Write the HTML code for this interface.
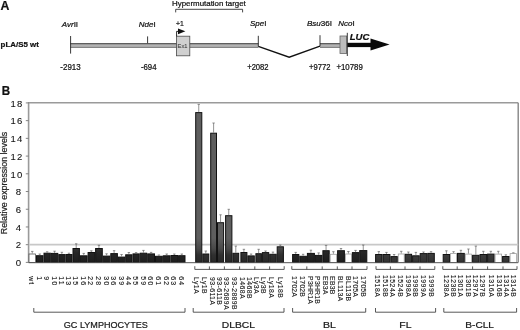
<!DOCTYPE html>
<html><head><meta charset="utf-8"><style>
html,body{margin:0;padding:0;background:#fff;width:520px;height:330px;overflow:hidden}
svg{display:block;font-family:"Liberation Sans", sans-serif;will-change:transform}
</style></head><body>
<svg width="520" height="330" viewBox="0 0 520 330">
<defs><linearGradient id="bg" gradientUnits="userSpaceOnUse" x1="0" y1="238" x2="0" y2="262">
<stop offset="0" stop-color="#5e5e5e"/><stop offset="0.45" stop-color="#484848"/><stop offset="0.7" stop-color="#303030"/><stop offset="1" stop-color="#282828"/></linearGradient>
<linearGradient id="bgl" gradientUnits="userSpaceOnUse" x1="0" y1="244" x2="0" y2="262">
<stop offset="0" stop-color="#4a4a4a"/><stop offset="1" stop-color="#333"/></linearGradient>
<linearGradient id="bgd" gradientUnits="userSpaceOnUse" x1="0" y1="244" x2="0" y2="262">
<stop offset="0" stop-color="#3c3c3c"/><stop offset="0.5" stop-color="#262626"/><stop offset="1" stop-color="#1e1e1e"/></linearGradient></defs>
<text x="0.60" y="10.20" font-size="12.8" font-weight="bold" font-style="normal" fill="#111" stroke="#111" stroke-width="0.22" text-anchor="start" textLength="8.90" lengthAdjust="spacingAndGlyphs" >A</text>
<text x="0.60" y="47.00" font-size="8" font-weight="bold" font-style="normal" fill="#111" stroke="#111" stroke-width="0.22" text-anchor="start" textLength="38.20" lengthAdjust="spacingAndGlyphs" >pLA/S5 wt</text>
<text x="172.00" y="6.20" font-size="7.8" font-weight="normal" font-style="normal" fill="#111" stroke="#111" stroke-width="0.22" text-anchor="start" textLength="73.80" lengthAdjust="spacingAndGlyphs" >Hypermutation target</text>
<path d="M175.7 12.4 V9.3 H242.6 V12.4" fill="none" stroke="#333" stroke-width="0.9"/>
<text x="61.80" y="26.70" font-size="8.0" font-weight="normal" font-style="italic" fill="#111" stroke="#111" stroke-width="0.22" text-anchor="start" textLength="16.30" lengthAdjust="spacingAndGlyphs" >Avr<tspan font-style="normal">II</tspan></text>
<text x="138.80" y="26.50" font-size="8.0" font-weight="normal" font-style="italic" fill="#111" stroke="#111" stroke-width="0.22" text-anchor="start" textLength="16.80" lengthAdjust="spacingAndGlyphs" >Nde<tspan font-style="normal">I</tspan></text>
<text x="250.00" y="25.90" font-size="8.0" font-weight="normal" font-style="italic" fill="#111" stroke="#111" stroke-width="0.22" text-anchor="start" textLength="16.40" lengthAdjust="spacingAndGlyphs" >Spe<tspan font-style="normal">I</tspan></text>
<text x="306.90" y="26.10" font-size="8.0" font-weight="normal" font-style="italic" fill="#111" stroke="#111" stroke-width="0.22" text-anchor="start" textLength="25.10" lengthAdjust="spacingAndGlyphs" >Bsu<tspan font-style="normal">36I</tspan></text>
<text x="338.30" y="26.10" font-size="8.0" font-weight="normal" font-style="italic" fill="#111" stroke="#111" stroke-width="0.22" text-anchor="start" textLength="16.30" lengthAdjust="spacingAndGlyphs" >Nco<tspan font-style="normal">I</tspan></text>
<text x="60.30" y="70.00" font-size="8.2" font-weight="normal" font-style="normal" fill="#111" stroke="#111" stroke-width="0.22" text-anchor="start" textLength="20.40" lengthAdjust="spacingAndGlyphs" >-2913</text>
<text x="140.90" y="69.90" font-size="8.2" font-weight="normal" font-style="normal" fill="#111" stroke="#111" stroke-width="0.22" text-anchor="start" textLength="15.60" lengthAdjust="spacingAndGlyphs" >-694</text>
<text x="247.20" y="69.70" font-size="8.2" font-weight="normal" font-style="normal" fill="#111" stroke="#111" stroke-width="0.22" text-anchor="start" textLength="21.40" lengthAdjust="spacingAndGlyphs" >+2082</text>
<text x="309.00" y="69.50" font-size="8.2" font-weight="normal" font-style="normal" fill="#111" stroke="#111" stroke-width="0.22" text-anchor="start" textLength="21.40" lengthAdjust="spacingAndGlyphs" >+9772</text>
<text x="336.40" y="69.50" font-size="8.2" font-weight="normal" font-style="normal" fill="#111" stroke="#111" stroke-width="0.22" text-anchor="start" textLength="26.40" lengthAdjust="spacingAndGlyphs" >+10789</text>
<text x="176.00" y="26.00" font-size="8.0" font-weight="normal" font-style="normal" fill="#111" stroke="#111" stroke-width="0.22" text-anchor="start" textLength="7.80" lengthAdjust="spacingAndGlyphs" >+1</text>
<rect x="70.5" y="43" width="187.8" height="5" fill="#b4b4b4"/>
<rect x="70.5" y="43" width="187.8" height="1.3" fill="#5e5e5e"/>
<rect x="70.5" y="46.8" width="187.8" height="1.2" fill="#858585"/>
<rect x="320.0" y="43" width="20.0" height="5" fill="#b4b4b4"/>
<rect x="320.0" y="43" width="20.0" height="1.3" fill="#5e5e5e"/>
<rect x="320.0" y="46.8" width="20.0" height="1.2" fill="#858585"/>
<path d="M70.6 36 V53.6" stroke="#222" stroke-width="0.9"/>
<path d="M147.6 36.4 V43.2" stroke="#222" stroke-width="0.9"/>
<path d="M258.3 35.8 V46.4" stroke="#222" stroke-width="0.9"/>
<path d="M320.0 35.2 V46.2" stroke="#222" stroke-width="0.9"/>
<path d="M258.3 46.4 L289.2 57.2 L320.0 46.2" fill="none" stroke="#111" stroke-width="1.3"/>
<rect x="176.4" y="36.2" width="13.4" height="19.6" fill="#d0d0d0" stroke="#4a4a4a" stroke-width="0.8"/>
<text x="177.60" y="47.60" font-size="5.4" font-weight="normal" font-style="normal" fill="#444" stroke="#444" stroke-width="0.1" text-anchor="start" textLength="9.80" lengthAdjust="spacingAndGlyphs" >Ex1</text>
<path d="M176.6 36.2 V31.4 H179" fill="none" stroke="#111" stroke-width="0.9"/>
<path d="M178.0 28.4 L185.4 31.3 L178.0 34.3 Z" fill="#111"/>
<rect x="340.0" y="36.0" width="6.6" height="17.4" fill="#bcbcbc" stroke="#666" stroke-width="0.8"/>
<path d="M347.3 32.8 V56" stroke="#222" stroke-width="0.9"/>
<rect x="347.3" y="42.8" width="24" height="4.3" fill="#0a0a0a"/>
<path d="M370.5 38.4 L389.6 44.4 L370.5 50.6 Z" fill="#0a0a0a"/>
<text x="349.70" y="40.00" font-size="9.0" font-weight="bold" font-style="italic" fill="#111" stroke="#111" stroke-width="0.22" text-anchor="start" textLength="19.60" lengthAdjust="spacingAndGlyphs" >LUC</text>
<text x="1.70" y="94.60" font-size="12.6" font-weight="bold" font-style="normal" fill="#111" stroke="#111" stroke-width="0.22" text-anchor="start" textLength="8.40" lengthAdjust="spacingAndGlyphs" >B</text>
<path d="M28.6 262.4 V102.8 H518.2" fill="none" stroke="#9a9a9a" stroke-width="1.6"/>
<path d="M518.2 102.8 V262.4" fill="none" stroke="#858585" stroke-width="1.4"/>
<path d="M28.6 244.68 H518.2" stroke="#c8c8c8" stroke-width="1.7"/>
<path d="M25.8 262.40 H28.6" stroke="#777" stroke-width="0.9"/>
<text x="15.80" y="266.10" font-size="9.6" font-weight="normal" font-style="normal" fill="#111" stroke="#111" stroke-width="0.08" text-anchor="start" >0</text>
<path d="M25.8 244.68 H28.6" stroke="#777" stroke-width="0.9"/>
<text x="15.80" y="248.38" font-size="9.6" font-weight="normal" font-style="normal" fill="#111" stroke="#111" stroke-width="0.08" text-anchor="start" >2</text>
<path d="M25.8 226.96 H28.6" stroke="#777" stroke-width="0.9"/>
<text x="15.80" y="230.66" font-size="9.6" font-weight="normal" font-style="normal" fill="#111" stroke="#111" stroke-width="0.08" text-anchor="start" >4</text>
<path d="M25.8 209.24 H28.6" stroke="#777" stroke-width="0.9"/>
<text x="15.80" y="212.94" font-size="9.6" font-weight="normal" font-style="normal" fill="#111" stroke="#111" stroke-width="0.08" text-anchor="start" >6</text>
<path d="M25.8 191.52 H28.6" stroke="#777" stroke-width="0.9"/>
<text x="15.80" y="195.22" font-size="9.6" font-weight="normal" font-style="normal" fill="#111" stroke="#111" stroke-width="0.08" text-anchor="start" >8</text>
<path d="M25.8 173.80 H28.6" stroke="#777" stroke-width="0.9"/>
<text x="10.50" y="177.50" font-size="9.5" font-weight="normal" font-style="normal" fill="#111" stroke="#111" stroke-width="0.08" text-anchor="start" letter-spacing="1.3">10</text>
<path d="M25.8 156.08 H28.6" stroke="#777" stroke-width="0.9"/>
<text x="10.50" y="159.78" font-size="9.5" font-weight="normal" font-style="normal" fill="#111" stroke="#111" stroke-width="0.08" text-anchor="start" letter-spacing="1.3">12</text>
<path d="M25.8 138.36 H28.6" stroke="#777" stroke-width="0.9"/>
<text x="10.50" y="142.06" font-size="9.5" font-weight="normal" font-style="normal" fill="#111" stroke="#111" stroke-width="0.08" text-anchor="start" letter-spacing="1.3">14</text>
<path d="M25.8 120.64 H28.6" stroke="#777" stroke-width="0.9"/>
<text x="10.50" y="124.34" font-size="9.5" font-weight="normal" font-style="normal" fill="#111" stroke="#111" stroke-width="0.08" text-anchor="start" letter-spacing="1.3">16</text>
<path d="M25.8 102.92 H28.6" stroke="#777" stroke-width="0.9"/>
<text x="10.50" y="106.62" font-size="9.5" font-weight="normal" font-style="normal" fill="#111" stroke="#111" stroke-width="0.08" text-anchor="start" letter-spacing="1.3">18</text>
<text transform="translate(7.4 234.2) rotate(-90)" x="0" y="0" font-size="8.2" fill="#222" stroke="#222" stroke-width="0.2" textLength="102.4" lengthAdjust="spacingAndGlyphs">Relative expression levels</text>
<rect x="29.00" y="254.00" width="6.50" height="8.40" fill="#fff" stroke="#555" stroke-width="0.8"/>
<path d="M32.25 253.50 V251.40 M31.05 251.40 H33.45" stroke="#666" stroke-width="0.7" fill="none"/>
<rect x="36.50" y="255.70" width="6.50" height="6.70" fill="url(#bgd)" stroke="#121212" stroke-width="1"/>
<path d="M39.75 255.20 V254.00 M38.55 254.00 H40.95" stroke="#666" stroke-width="0.7" fill="none"/>
<rect x="44.00" y="253.20" width="6.30" height="9.20" fill="url(#bgd)" stroke="#121212" stroke-width="1"/>
<path d="M47.15 252.70 V251.80 M45.95 251.80 H48.35" stroke="#666" stroke-width="0.7" fill="none"/>
<rect x="51.30" y="253.40" width="6.50" height="9.00" fill="url(#bgd)" stroke="#121212" stroke-width="1"/>
<path d="M54.55 252.90 V251.20 M53.35 251.20 H55.75" stroke="#666" stroke-width="0.7" fill="none"/>
<rect x="58.80" y="254.60" width="6.10" height="7.80" fill="url(#bgd)" stroke="#121212" stroke-width="1"/>
<path d="M61.85 254.10 V252.30 M60.65 252.30 H63.05" stroke="#666" stroke-width="0.7" fill="none"/>
<rect x="65.90" y="254.50" width="6.10" height="7.90" fill="url(#bgd)" stroke="#121212" stroke-width="1"/>
<path d="M68.95 254.00 V253.20 M67.75 253.20 H70.15" stroke="#666" stroke-width="0.7" fill="none"/>
<rect x="73.00" y="248.50" width="6.40" height="13.90" fill="url(#bgd)" stroke="#121212" stroke-width="1"/>
<path d="M76.20 248.00 V243.80 M75.00 243.80 H77.40" stroke="#666" stroke-width="0.7" fill="none"/>
<rect x="80.40" y="255.80" width="6.70" height="6.60" fill="url(#bgd)" stroke="#121212" stroke-width="1"/>
<path d="M83.75 255.30 V253.40 M82.55 253.40 H84.95" stroke="#666" stroke-width="0.7" fill="none"/>
<rect x="88.10" y="252.50" width="6.50" height="9.90" fill="url(#bgd)" stroke="#121212" stroke-width="1"/>
<path d="M91.35 252.00 V250.80 M90.15 250.80 H92.55" stroke="#666" stroke-width="0.7" fill="none"/>
<rect x="95.60" y="248.50" width="6.70" height="13.90" fill="url(#bgd)" stroke="#121212" stroke-width="1"/>
<path d="M98.95 248.00 V245.30 M97.75 245.30 H100.15" stroke="#666" stroke-width="0.7" fill="none"/>
<rect x="103.30" y="256.10" width="6.50" height="6.30" fill="url(#bgd)" stroke="#121212" stroke-width="1"/>
<path d="M106.55 255.60 V253.80 M105.35 253.80 H107.75" stroke="#666" stroke-width="0.7" fill="none"/>
<rect x="110.80" y="253.60" width="6.60" height="8.80" fill="url(#bgd)" stroke="#121212" stroke-width="1"/>
<path d="M114.10 253.10 V250.70 M112.90 250.70 H115.30" stroke="#666" stroke-width="0.7" fill="none"/>
<rect x="118.40" y="257.10" width="6.30" height="5.30" fill="url(#bgd)" stroke="#121212" stroke-width="1"/>
<path d="M121.55 256.60 V254.50 M120.35 254.50 H122.75" stroke="#666" stroke-width="0.7" fill="none"/>
<rect x="125.70" y="254.80" width="6.30" height="7.60" fill="url(#bgd)" stroke="#121212" stroke-width="1"/>
<path d="M128.85 254.30 V252.50 M127.65 252.50 H130.05" stroke="#666" stroke-width="0.7" fill="none"/>
<rect x="133.00" y="253.90" width="6.20" height="8.50" fill="url(#bgd)" stroke="#121212" stroke-width="1"/>
<path d="M136.10 253.40 V252.60 M134.90 252.60 H137.30" stroke="#666" stroke-width="0.7" fill="none"/>
<rect x="140.20" y="253.20" width="6.50" height="9.20" fill="url(#bgd)" stroke="#121212" stroke-width="1"/>
<path d="M143.45 252.70 V250.40 M142.25 250.40 H144.65" stroke="#666" stroke-width="0.7" fill="none"/>
<rect x="147.70" y="253.90" width="6.80" height="8.50" fill="url(#bgd)" stroke="#121212" stroke-width="1"/>
<path d="M151.10 253.40 V252.40 M149.90 252.40 H152.30" stroke="#666" stroke-width="0.7" fill="none"/>
<rect x="155.50" y="256.30" width="6.80" height="6.10" fill="url(#bgd)" stroke="#121212" stroke-width="1"/>
<path d="M158.90 255.80 V255.00 M157.70 255.00 H160.10" stroke="#666" stroke-width="0.7" fill="none"/>
<rect x="163.30" y="255.80" width="6.80" height="6.60" fill="url(#bgd)" stroke="#121212" stroke-width="1"/>
<path d="M166.70 255.30 V254.00 M165.50 254.00 H167.90" stroke="#666" stroke-width="0.7" fill="none"/>
<rect x="171.10" y="255.50" width="6.50" height="6.90" fill="url(#bgd)" stroke="#121212" stroke-width="1"/>
<path d="M174.35 255.00 V254.00 M173.15 254.00 H175.55" stroke="#666" stroke-width="0.7" fill="none"/>
<rect x="178.60" y="255.70" width="6.40" height="6.70" fill="url(#bgd)" stroke="#121212" stroke-width="1"/>
<path d="M181.80 255.20 V254.00 M180.60 254.00 H183.00" stroke="#666" stroke-width="0.7" fill="none"/>
<rect x="195.70" y="112.60" width="6.10" height="149.80" fill="url(#bg)" stroke="#121212" stroke-width="1"/>
<path d="M198.75 112.10 V104.40 M197.55 104.40 H199.95" stroke="#666" stroke-width="0.7" fill="none"/>
<rect x="202.80" y="254.00" width="6.00" height="8.40" fill="url(#bg)" stroke="#121212" stroke-width="1"/>
<path d="M205.80 253.50 V251.00 M204.60 251.00 H207.00" stroke="#666" stroke-width="0.7" fill="none"/>
<rect x="210.70" y="133.20" width="5.80" height="129.20" fill="url(#bg)" stroke="#121212" stroke-width="1"/>
<path d="M213.60 132.70 V123.00 M212.40 123.00 H214.80" stroke="#666" stroke-width="0.7" fill="none"/>
<rect x="217.50" y="222.70" width="6.10" height="39.70" fill="url(#bg)" stroke="#121212" stroke-width="1"/>
<path d="M220.55 222.20 V214.80 M219.35 214.80 H221.75" stroke="#666" stroke-width="0.7" fill="none"/>
<rect x="225.60" y="215.70" width="6.30" height="46.70" fill="url(#bg)" stroke="#121212" stroke-width="1"/>
<path d="M228.75 215.20 V209.30 M227.55 209.30 H229.95" stroke="#666" stroke-width="0.7" fill="none"/>
<rect x="232.90" y="253.30" width="5.80" height="9.10" fill="url(#bg)" stroke="#121212" stroke-width="1"/>
<path d="M235.80 252.80 V246.10 M234.60 246.10 H237.00" stroke="#666" stroke-width="0.7" fill="none"/>
<rect x="240.90" y="252.50" width="6.00" height="9.90" fill="url(#bg)" stroke="#121212" stroke-width="1"/>
<path d="M243.90 252.00 V249.30 M242.70 249.30 H245.10" stroke="#666" stroke-width="0.7" fill="none"/>
<rect x="247.90" y="255.90" width="6.40" height="6.50" fill="url(#bg)" stroke="#121212" stroke-width="1"/>
<path d="M251.10 255.40 V254.00 M249.90 254.00 H252.30" stroke="#666" stroke-width="0.7" fill="none"/>
<rect x="255.90" y="253.70" width="5.50" height="8.70" fill="url(#bg)" stroke="#121212" stroke-width="1"/>
<path d="M258.65 253.20 V249.30 M257.45 249.30 H259.85" stroke="#666" stroke-width="0.7" fill="none"/>
<rect x="262.40" y="252.60" width="6.30" height="9.80" fill="url(#bg)" stroke="#121212" stroke-width="1"/>
<path d="M265.55 252.10 V251.00 M264.35 251.00 H266.75" stroke="#666" stroke-width="0.7" fill="none"/>
<rect x="269.70" y="254.30" width="6.50" height="8.10" fill="url(#bg)" stroke="#121212" stroke-width="1"/>
<path d="M272.95 253.80 V252.10 M271.75 252.10 H274.15" stroke="#666" stroke-width="0.7" fill="none"/>
<rect x="277.20" y="246.80" width="6.20" height="15.60" fill="url(#bg)" stroke="#121212" stroke-width="1"/>
<path d="M280.30 246.30 V245.00 M279.10 245.00 H281.50" stroke="#666" stroke-width="0.7" fill="none"/>
<rect x="292.60" y="254.50" width="6.20" height="7.90" fill="url(#bgd)" stroke="#121212" stroke-width="1"/>
<path d="M295.70 254.00 V252.40 M294.50 252.40 H296.90" stroke="#666" stroke-width="0.7" fill="none"/>
<rect x="299.80" y="256.30" width="6.60" height="6.10" fill="url(#bgd)" stroke="#121212" stroke-width="1"/>
<path d="M303.10 255.80 V254.30 M301.90 254.30 H304.30" stroke="#666" stroke-width="0.7" fill="none"/>
<rect x="307.40" y="253.40" width="7.00" height="9.00" fill="url(#bgd)" stroke="#121212" stroke-width="1"/>
<path d="M310.90 252.90 V250.20 M309.70 250.20 H312.10" stroke="#666" stroke-width="0.7" fill="none"/>
<rect x="315.40" y="255.40" width="6.50" height="7.00" fill="url(#bgd)" stroke="#121212" stroke-width="1"/>
<path d="M318.65 254.90 V252.90 M317.45 252.90 H319.85" stroke="#666" stroke-width="0.7" fill="none"/>
<rect x="322.90" y="250.70" width="6.30" height="11.70" fill="url(#bgd)" stroke="#121212" stroke-width="1"/>
<path d="M326.05 250.20 V245.40 M324.85 245.40 H327.25" stroke="#666" stroke-width="0.7" fill="none"/>
<rect x="330.20" y="254.30" width="6.40" height="8.10" fill="#fff" stroke="#a0a0a0" stroke-width="0.8"/>
<path d="M333.40 253.80 V251.70 M332.20 251.70 H334.60" stroke="#666" stroke-width="0.7" fill="none"/>
<rect x="337.60" y="250.70" width="6.80" height="11.70" fill="url(#bgd)" stroke="#121212" stroke-width="1"/>
<path d="M341.00 250.20 V248.50 M339.80 248.50 H342.20" stroke="#666" stroke-width="0.7" fill="none"/>
<rect x="345.40" y="254.00" width="6.00" height="8.40" fill="#fff" stroke="#a0a0a0" stroke-width="0.8"/>
<path d="M348.40 253.50 V251.50 M347.20 251.50 H349.60" stroke="#666" stroke-width="0.7" fill="none"/>
<rect x="352.40" y="252.60" width="6.30" height="9.80" fill="url(#bgd)" stroke="#121212" stroke-width="1"/>
<path d="M355.55 252.10 V250.40 M354.35 250.40 H356.75" stroke="#666" stroke-width="0.7" fill="none"/>
<rect x="359.70" y="250.60" width="7.10" height="11.80" fill="url(#bgd)" stroke="#121212" stroke-width="1"/>
<path d="M363.25 250.10 V245.00 M362.05 245.00 H364.45" stroke="#666" stroke-width="0.7" fill="none"/>
<rect x="375.60" y="254.50" width="6.40" height="7.90" fill="url(#bgl)" stroke="#121212" stroke-width="1"/>
<path d="M378.80 254.00 V251.60 M377.60 251.60 H380.00" stroke="#666" stroke-width="0.7" fill="none"/>
<rect x="383.00" y="254.50" width="6.90" height="7.90" fill="url(#bgl)" stroke="#121212" stroke-width="1"/>
<path d="M386.45 254.00 V252.40 M385.25 252.40 H387.65" stroke="#666" stroke-width="0.7" fill="none"/>
<rect x="390.90" y="256.60" width="6.40" height="5.80" fill="url(#bgl)" stroke="#121212" stroke-width="1"/>
<path d="M394.10 256.10 V254.50 M392.90 254.50 H395.30" stroke="#666" stroke-width="0.7" fill="none"/>
<rect x="398.30" y="254.00" width="5.90" height="8.40" fill="#fff" stroke="#a0a0a0" stroke-width="0.8"/>
<path d="M401.25 253.50 V251.30 M400.05 251.30 H402.45" stroke="#666" stroke-width="0.7" fill="none"/>
<rect x="405.20" y="254.30" width="6.40" height="8.10" fill="url(#bgl)" stroke="#121212" stroke-width="1"/>
<path d="M408.40 253.80 V252.00 M407.20 252.00 H409.60" stroke="#666" stroke-width="0.7" fill="none"/>
<rect x="412.60" y="255.80" width="6.60" height="6.60" fill="url(#bgl)" stroke="#121212" stroke-width="1"/>
<path d="M415.90 255.30 V252.40 M414.70 252.40 H417.10" stroke="#666" stroke-width="0.7" fill="none"/>
<rect x="420.20" y="253.60" width="6.60" height="8.80" fill="url(#bgl)" stroke="#121212" stroke-width="1"/>
<path d="M423.50 253.10 V252.00 M422.30 252.00 H424.70" stroke="#666" stroke-width="0.7" fill="none"/>
<rect x="427.80" y="253.40" width="6.50" height="9.00" fill="url(#bgl)" stroke="#121212" stroke-width="1"/>
<path d="M431.05 252.90 V251.70 M429.85 251.70 H432.25" stroke="#666" stroke-width="0.7" fill="none"/>
<rect x="443.20" y="254.50" width="6.40" height="7.90" fill="url(#bgl)" stroke="#121212" stroke-width="1"/>
<path d="M446.40 254.00 V250.80 M445.20 250.80 H447.60" stroke="#666" stroke-width="0.7" fill="none"/>
<rect x="450.60" y="253.40" width="5.90" height="9.00" fill="#fff" stroke="#a0a0a0" stroke-width="0.8"/>
<path d="M453.55 252.90 V251.70 M452.35 251.70 H454.75" stroke="#666" stroke-width="0.7" fill="none"/>
<rect x="457.50" y="253.40" width="6.80" height="9.00" fill="url(#bgl)" stroke="#121212" stroke-width="1"/>
<path d="M460.90 252.90 V250.30 M459.70 250.30 H462.10" stroke="#666" stroke-width="0.7" fill="none"/>
<rect x="465.30" y="254.10" width="6.30" height="8.30" fill="#fff" stroke="#a0a0a0" stroke-width="0.8"/>
<path d="M468.45 253.60 V249.00 M467.25 249.00 H469.65" stroke="#666" stroke-width="0.7" fill="none"/>
<rect x="472.60" y="255.30" width="6.50" height="7.10" fill="url(#bgl)" stroke="#121212" stroke-width="1"/>
<path d="M475.85 254.80 V246.10 M474.65 246.10 H477.05" stroke="#666" stroke-width="0.7" fill="none"/>
<rect x="480.10" y="254.50" width="6.50" height="7.90" fill="url(#bgl)" stroke="#121212" stroke-width="1"/>
<path d="M483.35 254.00 V251.30 M482.15 251.30 H484.55" stroke="#666" stroke-width="0.7" fill="none"/>
<rect x="487.60" y="254.10" width="6.50" height="8.30" fill="url(#bgl)" stroke="#121212" stroke-width="1"/>
<path d="M490.85 253.60 V251.30 M489.65 251.30 H492.05" stroke="#666" stroke-width="0.7" fill="none"/>
<rect x="495.10" y="254.10" width="6.50" height="8.30" fill="#fff" stroke="#a0a0a0" stroke-width="0.8"/>
<path d="M498.35 253.60 V251.30 M497.15 251.30 H499.55" stroke="#666" stroke-width="0.7" fill="none"/>
<rect x="502.60" y="256.50" width="6.50" height="5.90" fill="url(#bgl)" stroke="#121212" stroke-width="1"/>
<path d="M505.85 256.00 V254.80 M504.65 254.80 H507.05" stroke="#666" stroke-width="0.7" fill="none"/>
<rect x="510.10" y="253.60" width="6.50" height="8.80" fill="#fff" stroke="#a0a0a0" stroke-width="0.8"/>
<path d="M513.35 253.10 V252.80 M512.15 252.80 H514.55" stroke="#666" stroke-width="0.7" fill="none"/>
<path d="M28.6 262.7 H518.2" stroke="#555" stroke-width="1"/>
<text transform="translate(29.38 276.3) rotate(90)" x="0" y="0" font-size="6.9" letter-spacing="1.05" fill="#111" stroke="#111" stroke-width="0.08">wt</text>
<text transform="translate(36.88 276.3) rotate(90)" x="0" y="0" font-size="6.9" letter-spacing="1.05" fill="#111" stroke="#111" stroke-width="0.08">1</text>
<text transform="translate(44.28 276.3) rotate(90)" x="0" y="0" font-size="6.9" letter-spacing="1.05" fill="#111" stroke="#111" stroke-width="0.08">9</text>
<text transform="translate(51.68 276.3) rotate(90)" x="0" y="0" font-size="6.9" letter-spacing="1.05" fill="#111" stroke="#111" stroke-width="0.08">10</text>
<text transform="translate(58.98 276.3) rotate(90)" x="0" y="0" font-size="6.9" letter-spacing="1.05" fill="#111" stroke="#111" stroke-width="0.08">11</text>
<text transform="translate(66.08 276.3) rotate(90)" x="0" y="0" font-size="6.9" letter-spacing="1.05" fill="#111" stroke="#111" stroke-width="0.08">13</text>
<text transform="translate(73.33 276.3) rotate(90)" x="0" y="0" font-size="6.9" letter-spacing="1.05" fill="#111" stroke="#111" stroke-width="0.08">15</text>
<text transform="translate(80.88 276.3) rotate(90)" x="0" y="0" font-size="6.9" letter-spacing="1.05" fill="#111" stroke="#111" stroke-width="0.08">16</text>
<text transform="translate(88.48 276.3) rotate(90)" x="0" y="0" font-size="6.9" letter-spacing="1.05" fill="#111" stroke="#111" stroke-width="0.08">22</text>
<text transform="translate(96.08 276.3) rotate(90)" x="0" y="0" font-size="6.9" letter-spacing="1.05" fill="#111" stroke="#111" stroke-width="0.08">28</text>
<text transform="translate(103.68 276.3) rotate(90)" x="0" y="0" font-size="6.9" letter-spacing="1.05" fill="#111" stroke="#111" stroke-width="0.08">30</text>
<text transform="translate(111.23 276.3) rotate(90)" x="0" y="0" font-size="6.9" letter-spacing="1.05" fill="#111" stroke="#111" stroke-width="0.08">36</text>
<text transform="translate(118.68 276.3) rotate(90)" x="0" y="0" font-size="6.9" letter-spacing="1.05" fill="#111" stroke="#111" stroke-width="0.08">39</text>
<text transform="translate(125.98 276.3) rotate(90)" x="0" y="0" font-size="6.9" letter-spacing="1.05" fill="#111" stroke="#111" stroke-width="0.08">44</text>
<text transform="translate(133.23 276.3) rotate(90)" x="0" y="0" font-size="6.9" letter-spacing="1.05" fill="#111" stroke="#111" stroke-width="0.08">55</text>
<text transform="translate(140.58 276.3) rotate(90)" x="0" y="0" font-size="6.9" letter-spacing="1.05" fill="#111" stroke="#111" stroke-width="0.08">59</text>
<text transform="translate(148.23 276.3) rotate(90)" x="0" y="0" font-size="6.9" letter-spacing="1.05" fill="#111" stroke="#111" stroke-width="0.08">60</text>
<text transform="translate(156.03 276.3) rotate(90)" x="0" y="0" font-size="6.9" letter-spacing="1.05" fill="#111" stroke="#111" stroke-width="0.08">61</text>
<text transform="translate(163.83 276.3) rotate(90)" x="0" y="0" font-size="6.9" letter-spacing="1.05" fill="#111" stroke="#111" stroke-width="0.08">62</text>
<text transform="translate(171.48 276.3) rotate(90)" x="0" y="0" font-size="6.9" letter-spacing="1.05" fill="#111" stroke="#111" stroke-width="0.08">63</text>
<text transform="translate(178.93 276.3) rotate(90)" x="0" y="0" font-size="6.9" letter-spacing="1.05" fill="#111" stroke="#111" stroke-width="0.08">64</text>
<text transform="translate(194.13 277.0) rotate(90)" x="0" y="0" font-size="6.9" letter-spacing="0.4" fill="#111" stroke="#111" stroke-width="0.08">Ly1A</text>
<text transform="translate(201.53 277.0) rotate(90)" x="0" y="0" font-size="6.9" letter-spacing="0.4" fill="#111" stroke="#111" stroke-width="0.08">Ly1B</text>
<text transform="translate(209.53 277.0) rotate(90)" x="0" y="0" font-size="6.9" letter-spacing="0.4" fill="#111" stroke="#111" stroke-width="0.08">93-611A</text>
<text transform="translate(216.53 277.0) rotate(90)" x="0" y="0" font-size="6.9" letter-spacing="0.4" fill="#111" stroke="#111" stroke-width="0.08">93-611B</text>
<text transform="translate(224.43 277.0) rotate(90)" x="0" y="0" font-size="6.9" letter-spacing="0.4" fill="#111" stroke="#111" stroke-width="0.08">93-2689A</text>
<text transform="translate(232.13 277.0) rotate(90)" x="0" y="0" font-size="6.9" letter-spacing="0.4" fill="#111" stroke="#111" stroke-width="0.08">93-2889B</text>
<text transform="translate(239.53 277.0) rotate(90)" x="0" y="0" font-size="6.9" letter-spacing="0.4" fill="#111" stroke="#111" stroke-width="0.08">1468A</text>
<text transform="translate(247.33 277.0) rotate(90)" x="0" y="0" font-size="6.9" letter-spacing="0.4" fill="#111" stroke="#111" stroke-width="0.08">1468B</text>
<text transform="translate(253.93 277.0) rotate(90)" x="0" y="0" font-size="6.9" letter-spacing="0.4" fill="#111" stroke="#111" stroke-width="0.08">Ly3A</text>
<text transform="translate(260.93 277.0) rotate(90)" x="0" y="0" font-size="6.9" letter-spacing="0.4" fill="#111" stroke="#111" stroke-width="0.08">Ly3B</text>
<text transform="translate(269.43 277.0) rotate(90)" x="0" y="0" font-size="6.9" letter-spacing="0.4" fill="#111" stroke="#111" stroke-width="0.08">Ly18A</text>
<text transform="translate(277.83 277.0) rotate(90)" x="0" y="0" font-size="6.9" letter-spacing="0.4" fill="#111" stroke="#111" stroke-width="0.08">Ly18B</text>
<text transform="translate(292.33 276.1) rotate(90)" x="0" y="0" font-size="6.9" letter-spacing="0.2" fill="#111" stroke="#111" stroke-width="0.08">1702A</text>
<text transform="translate(299.73 276.1) rotate(90)" x="0" y="0" font-size="6.9" letter-spacing="0.2" fill="#111" stroke="#111" stroke-width="0.08">1702B</text>
<text transform="translate(307.73 276.1) rotate(90)" x="0" y="0" font-size="6.9" letter-spacing="0.2" fill="#111" stroke="#111" stroke-width="0.08">P3HR1A</text>
<text transform="translate(315.03 276.1) rotate(90)" x="0" y="0" font-size="6.9" letter-spacing="0.2" fill="#111" stroke="#111" stroke-width="0.08">P3HR1B</text>
<text transform="translate(322.93 276.1) rotate(90)" x="0" y="0" font-size="6.9" letter-spacing="0.2" fill="#111" stroke="#111" stroke-width="0.08">EB3A</text>
<text transform="translate(329.93 276.1) rotate(90)" x="0" y="0" font-size="6.9" letter-spacing="0.2" fill="#111" stroke="#111" stroke-width="0.08">EB3B</text>
<text transform="translate(337.73 276.1) rotate(90)" x="0" y="0" font-size="6.9" letter-spacing="0.2" fill="#111" stroke="#111" stroke-width="0.08">BL113A</text>
<text transform="translate(345.83 276.1) rotate(90)" x="0" y="0" font-size="6.9" letter-spacing="0.2" fill="#111" stroke="#111" stroke-width="0.08">BL113B</text>
<text transform="translate(353.33 276.1) rotate(90)" x="0" y="0" font-size="6.9" letter-spacing="0.2" fill="#111" stroke="#111" stroke-width="0.08">1705A</text>
<text transform="translate(360.53 276.1) rotate(90)" x="0" y="0" font-size="6.9" letter-spacing="0.2" fill="#111" stroke="#111" stroke-width="0.08">1705B</text>
<text transform="translate(375.13 274.9) rotate(90)" x="0" y="0" font-size="6.9" letter-spacing="0.5" fill="#111" stroke="#111" stroke-width="0.08">1518A</text>
<text transform="translate(382.93 274.9) rotate(90)" x="0" y="0" font-size="6.9" letter-spacing="0.5" fill="#111" stroke="#111" stroke-width="0.08">1518B</text>
<text transform="translate(390.13 274.9) rotate(90)" x="0" y="0" font-size="6.9" letter-spacing="0.5" fill="#111" stroke="#111" stroke-width="0.08">1524A</text>
<text transform="translate(397.83 274.9) rotate(90)" x="0" y="0" font-size="6.9" letter-spacing="0.5" fill="#111" stroke="#111" stroke-width="0.08">1524B</text>
<text transform="translate(405.73 274.9) rotate(90)" x="0" y="0" font-size="6.9" letter-spacing="0.5" fill="#111" stroke="#111" stroke-width="0.08">1998A</text>
<text transform="translate(412.83 274.9) rotate(90)" x="0" y="0" font-size="6.9" letter-spacing="0.5" fill="#111" stroke="#111" stroke-width="0.08">1998B</text>
<text transform="translate(420.93 274.9) rotate(90)" x="0" y="0" font-size="6.9" letter-spacing="0.5" fill="#111" stroke="#111" stroke-width="0.08">1999A</text>
<text transform="translate(428.73 274.9) rotate(90)" x="0" y="0" font-size="6.9" letter-spacing="0.5" fill="#111" stroke="#111" stroke-width="0.08">1999B</text>
<text transform="translate(443.83 274.8) rotate(90)" x="0" y="0" font-size="6.9" letter-spacing="0.5" fill="#111" stroke="#111" stroke-width="0.08">1238A</text>
<text transform="translate(450.93 274.8) rotate(90)" x="0" y="0" font-size="6.9" letter-spacing="0.5" fill="#111" stroke="#111" stroke-width="0.08">1238B</text>
<text transform="translate(458.13 274.8) rotate(90)" x="0" y="0" font-size="6.9" letter-spacing="0.5" fill="#111" stroke="#111" stroke-width="0.08">1301A</text>
<text transform="translate(465.93 274.8) rotate(90)" x="0" y="0" font-size="6.9" letter-spacing="0.5" fill="#111" stroke="#111" stroke-width="0.08">1301B</text>
<text transform="translate(473.13 274.8) rotate(90)" x="0" y="0" font-size="6.9" letter-spacing="0.5" fill="#111" stroke="#111" stroke-width="0.08">1297A</text>
<text transform="translate(480.23 274.8) rotate(90)" x="0" y="0" font-size="6.9" letter-spacing="0.5" fill="#111" stroke="#111" stroke-width="0.08">1297B</text>
<text transform="translate(488.93 274.8) rotate(90)" x="0" y="0" font-size="6.9" letter-spacing="0.5" fill="#111" stroke="#111" stroke-width="0.08">1316A</text>
<text transform="translate(496.83 274.8) rotate(90)" x="0" y="0" font-size="6.9" letter-spacing="0.5" fill="#111" stroke="#111" stroke-width="0.08">1316B</text>
<text transform="translate(503.93 274.8) rotate(90)" x="0" y="0" font-size="6.9" letter-spacing="0.5" fill="#111" stroke="#111" stroke-width="0.08">1314A</text>
<text transform="translate(510.93 274.8) rotate(90)" x="0" y="0" font-size="6.9" letter-spacing="0.5" fill="#111" stroke="#111" stroke-width="0.08">1314B</text>
<path d="M194.8 266.2 V269.4 H284.2 V266.2 M209.4 266.4 V269.4 M224.4 266.4 V269.4 M239.6 266.4 V269.4 M254.8 266.4 V269.4 M269.6 266.4 V269.4" fill="none" stroke="#333" stroke-width="0.8"/>
<path d="M291.8 266.2 V269.4 H367.0 V266.2 M306.8 266.4 V269.4 M322.2 266.4 V269.4 M337.3 266.4 V269.4 M352.0 266.4 V269.4" fill="none" stroke="#333" stroke-width="0.8"/>
<path d="M376.0 266.2 V269.4 H434.8 V266.2 M390.4 266.4 V269.4 M405.0 266.4 V269.4 M420.0 266.4 V269.4" fill="none" stroke="#333" stroke-width="0.8"/>
<path d="M442.8 266.2 V269.4 H517.0 V266.2 M457.2 266.4 V269.4 M472.6 266.4 V269.4 M487.6 266.4 V269.4 M503.0 266.4 V269.4" fill="none" stroke="#333" stroke-width="0.8"/>
<path d="M33.8 308 V312.2 H185.0 V308" fill="none" stroke="#444" stroke-width="0.9"/>
<path d="M193.2 308 V312.2 H284.0 V308" fill="none" stroke="#444" stroke-width="0.9"/>
<path d="M292.6 308 V312.2 H365.7 V308" fill="none" stroke="#444" stroke-width="0.9"/>
<path d="M375.5 308 V312.2 H435.6 V308" fill="none" stroke="#444" stroke-width="0.9"/>
<path d="M443.8 308 V312.2 H516.6 V308" fill="none" stroke="#444" stroke-width="0.9"/>
<text x="63.80" y="327.60" font-size="9.6" font-weight="normal" font-style="normal" fill="#1a1a1a" stroke="#1a1a1a" stroke-width="0.22" text-anchor="start" textLength="84.00" lengthAdjust="spacingAndGlyphs" >GC LYMPHOCYTES</text>
<text x="221.80" y="328.20" font-size="9.6" font-weight="normal" font-style="normal" fill="#1a1a1a" stroke="#1a1a1a" stroke-width="0.22" text-anchor="start" textLength="33.20" lengthAdjust="spacingAndGlyphs" >DLBCL</text>
<text x="323.10" y="328.40" font-size="9.6" font-weight="normal" font-style="normal" fill="#1a1a1a" stroke="#1a1a1a" stroke-width="0.22" text-anchor="start" textLength="12.90" lengthAdjust="spacingAndGlyphs" >BL</text>
<text x="399.30" y="328.20" font-size="9.6" font-weight="normal" font-style="normal" fill="#1a1a1a" stroke="#1a1a1a" stroke-width="0.22" text-anchor="start" textLength="12.20" lengthAdjust="spacingAndGlyphs" >FL</text>
<text x="465.30" y="328.20" font-size="9.6" font-weight="normal" font-style="normal" fill="#1a1a1a" stroke="#1a1a1a" stroke-width="0.22" text-anchor="start" textLength="28.70" lengthAdjust="spacingAndGlyphs" >B-CLL</text>
</svg>
</body></html>
